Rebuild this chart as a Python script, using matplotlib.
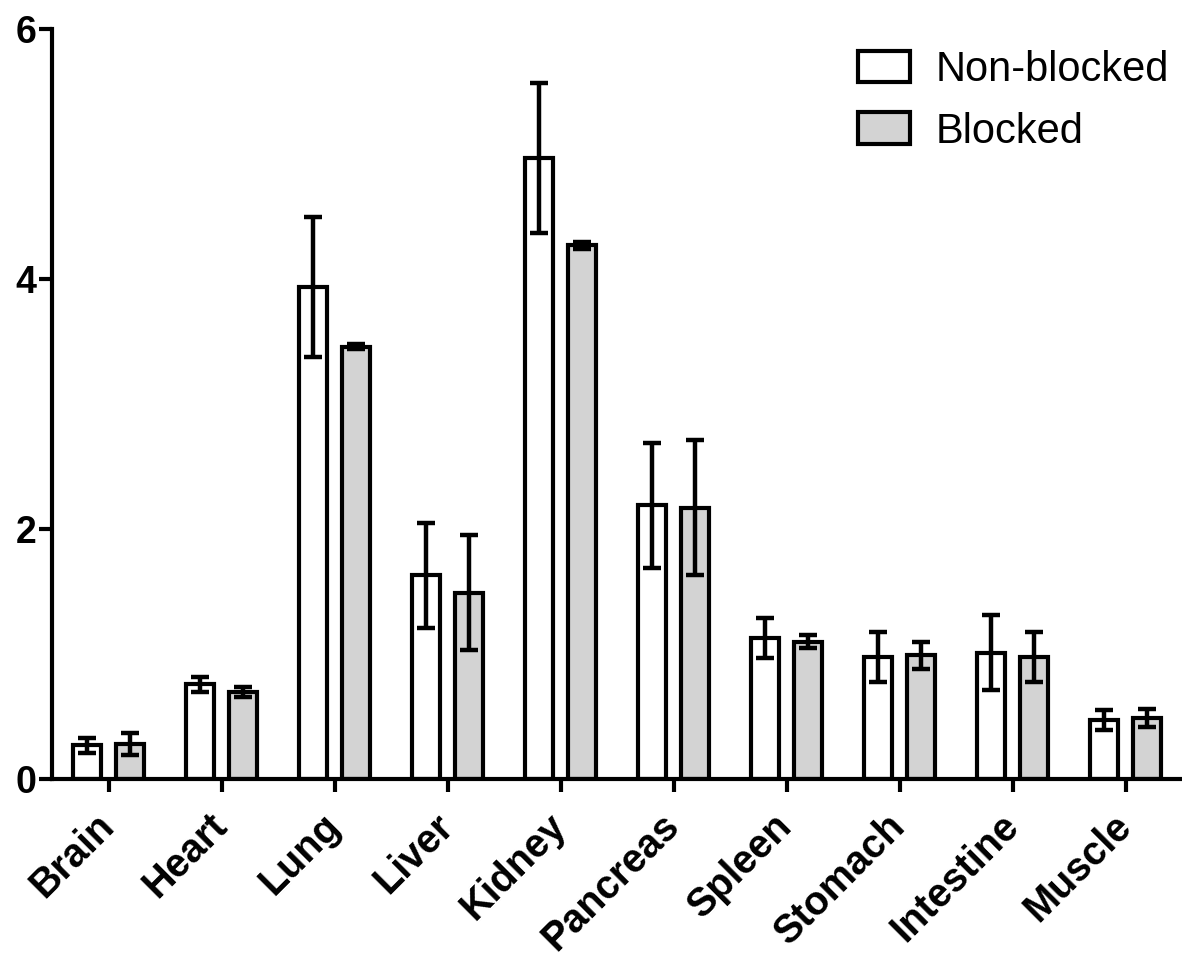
import numpy as np
import matplotlib.pyplot as plt

# Organ uptake, non-blocked vs blocked (mean +/- error)
organs = ["Brain", "Heart", "Lung", "Liver", "Kidney",
          "Pancreas", "Spleen", "Stomach", "Intestine", "Muscle"]
nonblocked = [0.27, 0.76, 3.94, 1.63, 4.97, 2.19, 1.13, 0.98, 1.01, 0.47]
nonblocked_err = [0.06, 0.06, 0.56, 0.42, 0.60, 0.50, 0.16, 0.20, 0.30, 0.08]
blocked = [0.28, 0.70, 3.46, 1.49, 4.27, 2.17, 1.10, 0.99, 0.98, 0.49]
blocked_err = [0.09, 0.04, 0.02, 0.46, 0.03, 0.54, 0.05, 0.11, 0.20, 0.07]

plt.rcParams['font.family'] = ['Liberation Sans', 'DejaVu Sans']

fig = plt.figure(figsize=(11.82, 9.6), dpi=100)
ax = fig.add_axes([52 / 1182, 1 - 779 / 960, 1 - 52 / 1182, 750 / 960])

x = np.arange(len(organs))
w = 0.25
off = 0.19
lw = 3
err_kw = dict(elinewidth=3.2, capsize=6.5, capthick=3.2, ecolor='black')

ax.bar(x - off, nonblocked, w, yerr=nonblocked_err, color='white',
       edgecolor='black', linewidth=lw, error_kw=err_kw, label='Non-blocked')
ax.bar(x + off, blocked, w, yerr=blocked_err, color='#d3d3d3',
       edgecolor='black', linewidth=lw, error_kw=err_kw, label='Blocked')

ax.set_xlim(-0.5, 9.5)
ax.set_ylim(0, 6)
ax.set_yticks([0, 2, 4, 6])
ax.set_xticks(x)
ax.set_xticklabels(organs, rotation=45, ha='right', va='center',
                   rotation_mode='anchor', fontsize=28.5, fontweight='bold')
for lab in ax.get_yticklabels():
    lab.set_fontsize(27)
    lab.set_fontweight('bold')

for side in ['top', 'right']:
    ax.spines[side].set_visible(False)
for side in ['left', 'bottom']:
    ax.spines[side].set_linewidth(3)
ax.tick_params(axis='both', width=3, length=9.5, direction='out')
ax.tick_params(axis='y', pad=2)
ax.tick_params(axis='x', pad=20)

leg = ax.legend(loc='upper left', bbox_to_anchor=(858 / 1182, 1 - 50 / 960),
                bbox_transform=fig.transFigure, frameon=False, fontsize=30,
                handlelength=1.25, handleheight=0.78, handletextpad=0.62,
                labelspacing=0.52, borderpad=0, borderaxespad=0)
for h in leg.legend_handles:
    h.set_linewidth(3)

fig.savefig('out.png', dpi=100)
